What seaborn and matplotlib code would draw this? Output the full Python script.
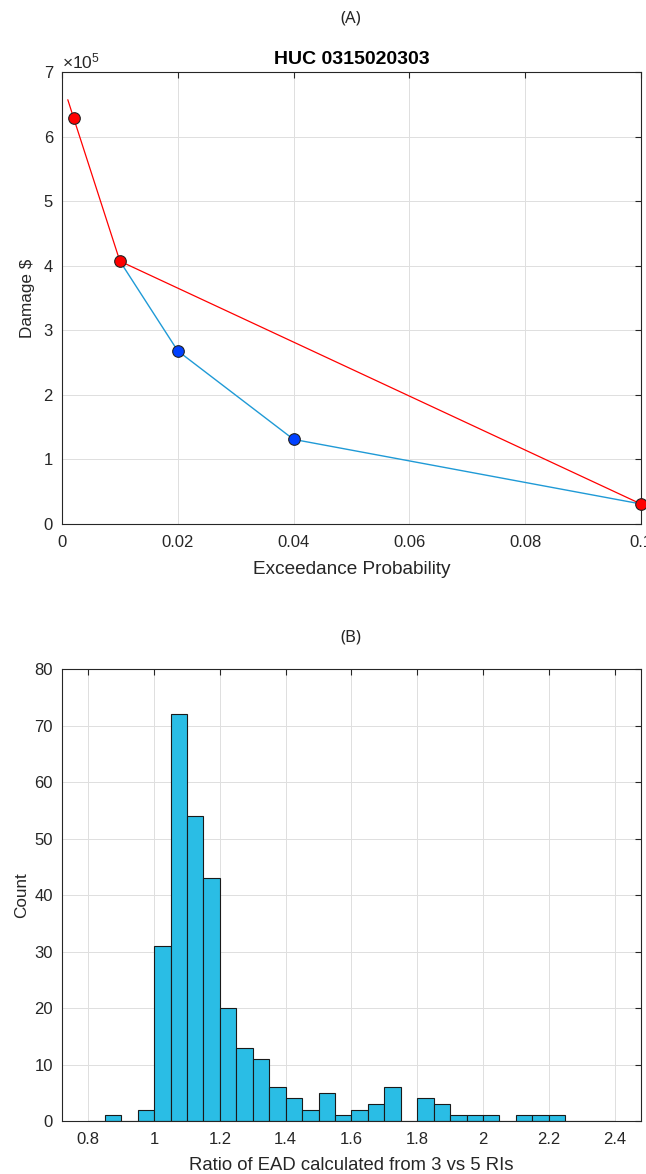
import numpy as np
import pandas as pd
import matplotlib
matplotlib.use("Agg")
import matplotlib.pyplot as plt
import seaborn as sns

# ---------------- data ----------------
# Panel A: damage vs exceedance probability
ep5 = [0.01, 0.02, 0.04, 0.1]           # 5-RI curve (blue line)
dmg5 = [4.07e5, 2.68e5, 1.31e5, 0.31e5]
ep5_marker = [0.02, 0.04]
dmg5_marker = [2.68e5, 1.31e5]

ep3_line = [0.001, 0.002, 0.01, 0.1]   # 3-RI curve (red line, extrapolated to 0.001)
dmg3_line = [6.57e5, 6.29e5, 4.07e5, 0.31e5]
ep3_marker = [0.002, 0.01, 0.1]
dmg3_marker = [6.29e5, 4.07e5, 0.31e5]

# Panel B: histogram of ratio (bin width 0.05 from 0.80 to 2.40)
bin_edges = [round(0.80 + 0.05 * i, 2) for i in range(33)]
counts = [0, 1, 0, 2, 31, 72, 54, 43, 20, 13, 11, 6, 4, 2, 5, 1,
          2, 3, 6, 0, 4, 3, 1, 1, 1, 0, 1, 1, 1, 0, 0, 0]

# ---------------- style ----------------
sns.set_style("white")
plt.rcParams['font.family'] = ['Liberation Sans', 'DejaVu Sans']
plt.rcParams['mathtext.fontset'] = 'custom'
plt.rcParams['mathtext.rm'] = 'Liberation Sans'
TXT = '#262626'
GRID = '#dfdfdf'

fig = plt.figure(figsize=(6.46, 11.74), dpi=100)
axA = fig.add_axes([0.096, 0.5537, 0.896, 0.385])
axB = fig.add_axes([0.096, 0.0451, 0.896, 0.385])

def matlab_axes(ax):
    ax.grid(True, color=GRID, linewidth=0.7)
    ax.set_axisbelow(True)
    for s in ax.spines.values():
        s.set_color(TXT)
        s.set_linewidth(0.8)
        s.set_visible(True)
    ax.tick_params(direction='in', top=True, right=True, length=4,
                   width=0.8, color=TXT, labelcolor=TXT, labelsize=12)
    ax.tick_params(axis='x', pad=8)
    ax.tick_params(axis='y', pad=6.5)

# ---------------- panel A ----------------
sns.lineplot(x=ep5, y=dmg5, ax=axA, color='#1f9ad6', linewidth=1.0, sort=False)
sns.lineplot(x=ep3_line, y=dmg3_line, ax=axA, color='#ff0000', linewidth=0.9, sort=False)
sns.scatterplot(x=ep5_marker, y=dmg5_marker, ax=axA, color='#0040ff', s=70,
                edgecolor='#222222', linewidth=0.8, zorder=5)
sns.scatterplot(x=ep3_marker, y=dmg3_marker, ax=axA, color='#ff0000', s=70,
                edgecolor='#222222', linewidth=0.8, zorder=5, clip_on=False)
axA.set_xlim(0, 0.1)
axA.set_ylim(0, 7e5)
axA.set_xticks([0, 0.02, 0.04, 0.06, 0.08, 0.1])
axA.set_xticklabels(['0', '0.02', '0.04', '0.06', '0.08', '0.1'])
axA.set_yticks([i * 1e5 for i in range(8)])
axA.set_yticklabels([str(i) for i in range(8)])
matlab_axes(axA)
axA.set_xlabel('Exceedance Probability', fontsize=13.7, color=TXT, labelpad=8)
axA.set_ylabel('Damage $', fontsize=12.3, color=TXT)
axA.yaxis.set_label_coords(-0.047, 0.5)
axA.set_title('HUC 0315020303', fontsize=14, fontweight='bold', color='black', pad=6)
axA.text(0.0, 1.002, r'$\times\mathregular{10^5}$', transform=axA.transAxes,
         fontsize=12.5, color=TXT, ha='left', va='bottom')

# ---------------- panel B ----------------
centers = [(bin_edges[i] + bin_edges[i + 1]) / 2 for i in range(len(counts))]
dfB = pd.DataFrame({'ratio': centers, 'count': counts})
sns.histplot(data=dfB, x='ratio', weights='count', bins=bin_edges, ax=axB,
             color='#2abde5', alpha=1.0, edgecolor='#1a1a1a', linewidth=0.8)
axB.set_xlim(0.72, 2.48)
axB.set_ylim(0, 80)
axB.set_xticks([0.8, 1.0, 1.2, 1.4, 1.6, 1.8, 2.0, 2.2, 2.4])
axB.set_xticklabels(['0.8', '1', '1.2', '1.4', '1.6', '1.8', '2', '2.2', '2.4'])
axB.set_yticks(range(0, 81, 10))
matlab_axes(axB)
axB.set_xlabel('Ratio of EAD calculated from 3 vs 5 RIs', fontsize=13.3, color=TXT, labelpad=7)
axB.set_ylabel('Count', fontsize=12.3, color=TXT)
axB.yaxis.set_label_coords(-0.056, 0.5)

# panel letters
fig.text(0.543, 0.984, '(A)', fontsize=12, ha='center', va='center',
         color=TXT, family=['Noto Sans', 'DejaVu Sans'])
fig.text(0.543, 0.4574, '(B)', fontsize=12, ha='center', va='center',
         color=TXT, family=['Noto Sans', 'DejaVu Sans'])

fig.savefig('out.png', dpi=100)
